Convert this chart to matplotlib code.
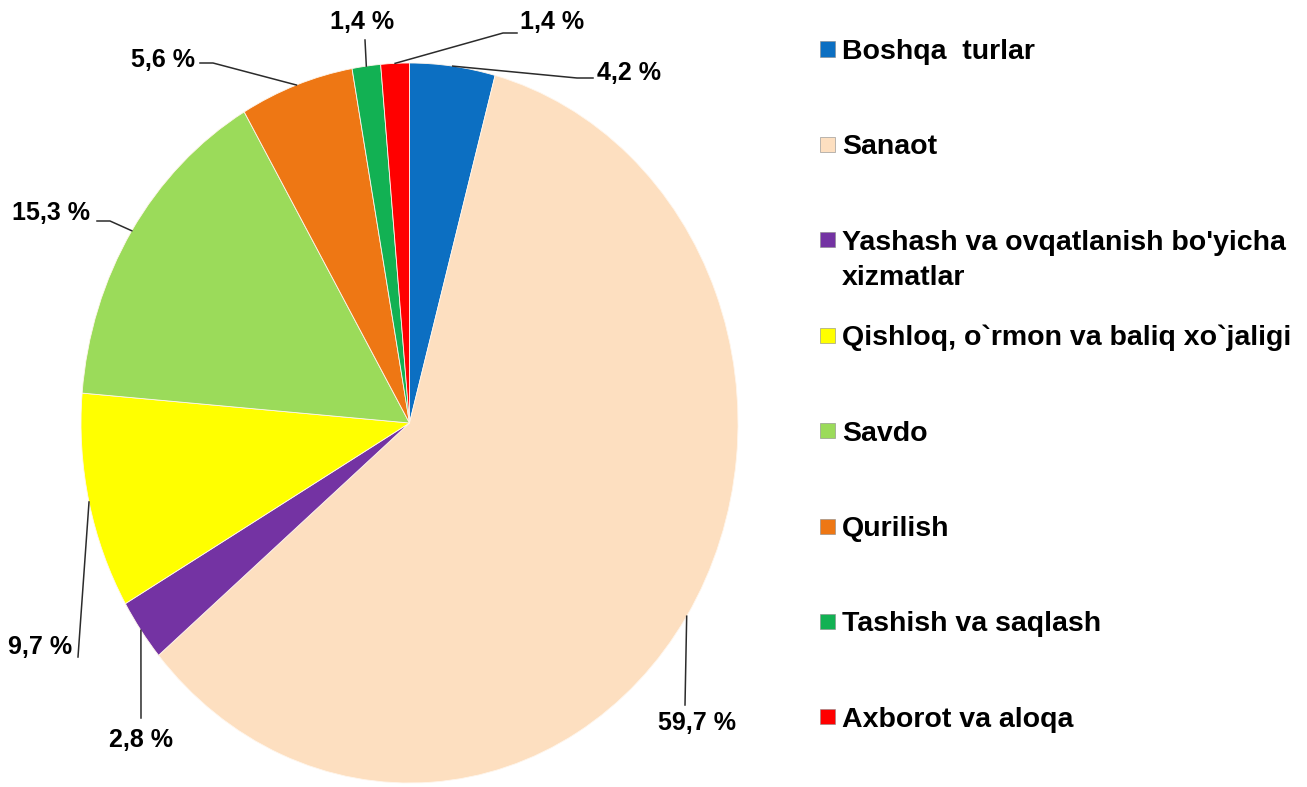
import matplotlib.pyplot as plt
import matplotlib.patches as mpatches
import numpy as np

plt.rcParams['font.family'] = ['Liberation Sans', 'DejaVu Sans']
plt.rcParams['font.weight'] = 'bold'

sectors = ['Boshqa  turlar', 'Sanaot', "Yashash va ovqatlanish bo'yicha\nxizmatlar",
           'Qishloq, o`rmon va baliq xo`jaligi', 'Savdo', 'Qurilish',
           'Tashish va saqlash', 'Axborot va aloqa']
shares = [4.2, 59.7, 2.8, 9.7, 15.3, 5.6, 1.4, 1.4]
colors = ['#0C6FC2', '#FDDFC0', '#7433A3', '#FFFF00', '#9BDB5A', '#EE7714', '#12B153', '#FF0000']

W, H = 1307, 787
fig = plt.figure(figsize=(W / 100, H / 100), dpi=100)

# pie area in pixels (reference is a slightly tall ellipse)
cx, cy, rx, ry = 409.5, 423, 328.5, 360
ax = fig.add_axes([(cx - rx) / W, 1 - (cy + ry) / H, 2 * rx / W, 2 * ry / H])

wedges, _ = ax.pie(shares, colors=colors, startangle=90, counterclock=False,
                   wedgeprops=dict(edgecolor='#FFF6EC', linewidth=0.6))
ax.set_aspect('auto')
ax.set_xlim(-1, 1)
ax.set_ylim(-1, 1)
ax.axis('off')


def px(x, y):
    return (x - cx) / rx, (cy - y) / ry


# label text position (px), alignment, extra leader points (px)
label_pos = [
    ((597, 73), 'left', [(577, 78), (593, 78)]),
    ((697, 723), 'center', [(685, 705)]),
    ((141, 740), 'center', [(141, 718)]),
    ((72, 647), 'right', [(78, 657)]),
    ((90, 213), 'right', [(110, 221), (97, 221)]),
    ((195, 60), 'right', [(213, 63), (200, 63)]),
    ((362, 22), 'center', [(365, 40)]),
    ((552, 22), 'center', [(503, 33), (517, 33)]),
]

for w, v, (tp, ha, pts) in zip(wedges, shares, label_pos):
    mid = np.deg2rad((w.theta1 + w.theta2) / 2)
    xs = [np.cos(mid)] + [px(*p)[0] for p in pts]
    ys = [np.sin(mid)] + [px(*p)[1] for p in pts]
    ax.plot(xs, ys, color='#2b2b2b', lw=1.1, clip_on=False)
    tx, ty = px(*tp)
    ax.text(tx, ty, f'{v:.1f} %'.replace('.', ','), ha=ha, va='center',
            fontsize=18, fontweight='bold', clip_on=False)

# legend on the right
y0, dy = 49, 95.4
for i, (name, c) in enumerate(zip(sectors, colors)):
    yc = y0 + i * dy
    fig.add_artist(mpatches.Rectangle((820 / W, 1 - (yc + 7.5) / H), 15 / W, 15 / H,
                                      facecolor=c, edgecolor='#888888', lw=0.4,
                                      transform=fig.transFigure))
    for j, line in enumerate(name.split('\n')):
        fig.text(842 / W, 1 - (yc + j * 35) / H, line, ha='left', va='center_baseline',
                 fontsize=20.5, fontweight='bold')

fig.savefig('out.png', dpi=100)
